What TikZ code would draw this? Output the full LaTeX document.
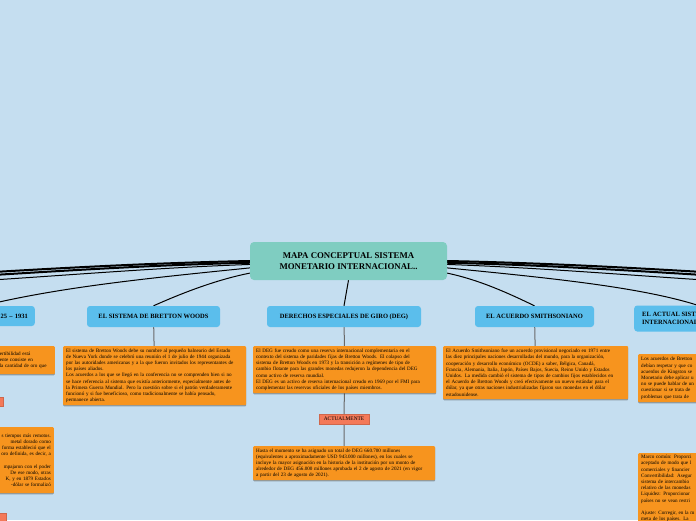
\documentclass[tikz,border=0pt]{standalone}
\usepackage{fontspec}
\setmainfont{Liberation Serif}
\usepackage{tikz}
\usetikzlibrary{positioning, shadows, backgrounds}
\usepackage{xcolor}
\definecolor{bgcolor}{RGB}{197,222,240}
\definecolor{maincolor}{RGB}{127,205,193}
\definecolor{hdrcolor}{RGB}{91,190,236}
\definecolor{txtcolor}{RGB}{247,148,30}
\definecolor{notecolor}{RGB}{244,121,89}
\definecolor{linkgray}{RGB}{105,105,105}
\setlength{\parindent}{0pt}
\newcommand{\jl}[1]{\makebox[\hsize][s]{#1}}

\begin{document}
\begin{tikzpicture}[
    x=1pt, y=-1pt,
    mainbox/.style={rectangle, rounded corners=4pt, fill=maincolor, minimum width=197pt, minimum height=38pt, align=center, font=\fontsize{8.8}{10.5}\selectfont\bfseries},
    hdr/.style={rectangle, rounded corners=3pt, fill=hdrcolor, minimum height=21pt, align=center, font=\fontsize{6.5}{8}\selectfont\bfseries},
    txt/.style={rectangle, rounded corners=1pt, fill=txtcolor, anchor=north west, inner xsep=3pt, inner ysep=2pt, align=left, font=\fontsize{5.1}{6.2}\selectfont, drop shadow={shadow xshift=0pt, shadow yshift=-1.2pt, opacity=0.3, fill=black}},
    note/.style={rectangle, fill=notecolor, draw=notecolor!85!black, line width=0.4pt, minimum width=50pt, minimum height=10pt, inner sep=1pt, font=\fontsize{5.4}{6}\selectfont},
    biglink/.style={draw=black, line width=2pt},
    link/.style={draw=black, line width=1pt},
    sublink/.style={draw=linkgray, line width=1pt}
]
\useasboundingbox (0,0) rectangle (696,520);

\node[mainbox] (mapa) at (348.5,261) {MAPA CONCEPTUAL SISTEMA\\MONETARIO INTERNACIONAL..};

\node[hdr, text width=90pt, align=right, anchor=east, minimum height=20pt, inner xsep=7pt] (histhdr) at (35,316) {25 -- 1931};
\node[hdr, minimum width=133pt] (bwhdr) at (153.5,316.5) {EL SISTEMA DE BRETTON WOODS};
\node[hdr, minimum width=154pt] (deghdr) at (344,316.5) {DERECHOS ESPECIALES DE GIRO (DEG)};
\node[hdr, minimum width=119pt] (smithhdr) at (534.5,316.5) {EL ACUERDO SMITHSONIANO};
\node[hdr, anchor=west, align=left, minimum height=26pt, inner xsep=8pt] (acthdr) at (634,318.5) {EL ACTUAL SISTEMA MONETARIO\\INTERNACIONAL};

\node[txt, text width=177pt, minimum height=59pt] (bwtext) at (63,346) {\jl{El sistema de Bretton Woods debe su nombre al pequeño balneario del Estado}\\
\jl{de Nueva York donde se celebró una reunión el 1 de julio de 1944 organizada}\\
\jl{por las autoridades americanas y a la que fueron invitados los representantes de}\\
los países aliados.\\
\jl{Los acuerdos a los que se llegó en la conferencia no se comprenden bien si no}\\
\jl{se hace referencia al sistema que existía anteriormente, especialmente antes de}\\
\jl{la Primera Guerra Mundial. Pero la cuestión sobre si el patrón verdaderamente}\\
funcionó y si fue beneficioso, como tradicionalmente se había pensado,\\
permanece abierta.};

\node[txt, text width=177pt, minimum height=47pt] (degtext) at (253,346) {El DEG fue creado como una reserva internacional complementaria en el\\
contexto del sistema de paridades fijas de Bretton Woods. El colapso del\\
sistema de Bretton Woods en 1973 y la transición a regímenes de tipo de\\
cambio flotante para las grandes monedas redujeron la dependencia del DEG\\
como activo de reserva mundial.\\
El DEG es un activo de reserva internacional creado en 1969 por el FMI para\\
complementar las reservas oficiales de los países miembros.};

\node[note] (nownote) at (344,419) {ACTUALMENTE};

\node[txt, text width=176pt, minimum height=34pt] (degnow) at (253,446) {Hasta el momento se ha asignado un total de DEG 660.700 millones\\
(equivalentes a aproximadamente USD 943.000 millones), en los cuales se\\
incluye la mayor asignación en la historia de la institución por un monto de\\
alrededor de DEG 456.000 millones aprobada el 2 de agosto de 2021 (en vigor\\
a partir del 23 de agosto de 2021).};

\node[txt, text width=179pt, minimum height=53pt] (smithtext) at (443,346) {El Acuerdo Smithsoniano fue un acuerdo provisional negociado en 1971 entre\\
las diez principales naciones desarrolladas del mundo, para la organización,\\
cooperación y desarrollo económico (OCDE) a saber, Bélgica, Canadá,\\
Francia, Alemania, Italia, Japón, Países Bajos, Suecia, Reino Unido y Estados\\
Unidos. La medida cambió el sistema de tipos de cambios fijos establecidos en\\
el Acuerdo de Bretton Woods y creó efectivamente un nuevo estándar para el\\
dólar, ya que otras naciones industrializadas fijaron sus monedas en el dólar\\
estadounidense.};

\node[txt, anchor=north east, text width=52pt, minimum height=28pt] (histtext) at (55,346) {ertibilidad está\\
ente consiste en\\
la cantidad de oro que};
\node[note, anchor=east, minimum width=20pt, minimum height=9pt] (histnote) at (3,401.5) {};
\node[txt, anchor=north east, text width=52pt, align=right, minimum height=66pt] (historig) at (54,427) {s tiempos más remotos.\\
metal dorado como\\
forma estableció que el\\
oro definida, es decir, a\\[6.2pt]
mpajaron con el poder\\
De ese modo, otras\\
K, y en 1879 Estados\\
-dólar se formalizó};
\node[note, anchor=north east, minimum width=20pt, minimum height=12pt] (histnow) at (6,513) {};

\node[txt, text width=60pt, minimum height=48pt] (acttext) at (638,354) {Los acuerdos de Bretton\\
debían respetar y que co\\
acuerdos de Kingston se\\
Monetario debe aplicar u\\
no se puede hablar de un\\
cuestionar si se trata de\\
problemas que trata de};
\node[txt, text width=60pt] (actgoals) at (638,453) {Marco común: Proporci\\
aceptado de modo que l\\
comerciales y financier\\
Convertibilidad: Asegur\\
sistema de intercambio\\
relativo de las monedas\\
Liquidez: Proporcionar\\
países no se vean restri\\[6.2pt]
Ajuste: Corregir, en la m\\
meta de los países. La};

\coordinate (farleftA) at (-40,274);
\coordinate (farleftB) at (-40,277);
\coordinate (farleftC) at (-40,282);
\coordinate (farrightA) at (736,274);
\coordinate (farrightB) at (736,277);
\coordinate (farrightC) at (736,282);

\begin{scope}[on background layer]
\fill[bgcolor] (0,0) rectangle (696,520);
\draw[biglink] (mapa.180) .. controls (150,263) and (60,268) .. (farleftA);
\draw[biglink] (mapa.181) .. controls (150,265) and (60,271) .. (farleftB);
\draw[link] (mapa.182) .. controls (150,268) and (60,276) .. (farleftC);
\draw[link] (mapa.184) .. controls (150,278) and (60,287) .. (histhdr.north);
\draw[link] (mapa.187) .. controls (215,280) and (180,294) .. (bwhdr.north);
\draw[link] (mapa.south) -- (deghdr.north);
\draw[link] (mapa.-7) .. controls (480,280) and (510,294) .. (smithhdr.north);
\draw[link] (mapa.-4) .. controls (550,278) and (640,287) .. (acthdr.north);
\draw[biglink] (mapa.0) .. controls (547,263) and (637,268) .. (farrightA);
\draw[biglink] (mapa.-1) .. controls (547,265) and (637,271) .. (farrightB);
\draw[link] (mapa.-2) .. controls (547,268) and (637,276) .. (farrightC);
\draw[sublink] (bwhdr) -- (bwtext);
\draw[sublink] (deghdr) -- (degtext);
\draw[sublink] (degtext) -- (nownote);
\draw[sublink] (nownote) -- (degnow);
\draw[sublink] (smithhdr) -- (smithtext);
\end{scope}
\end{tikzpicture}
\end{document}
